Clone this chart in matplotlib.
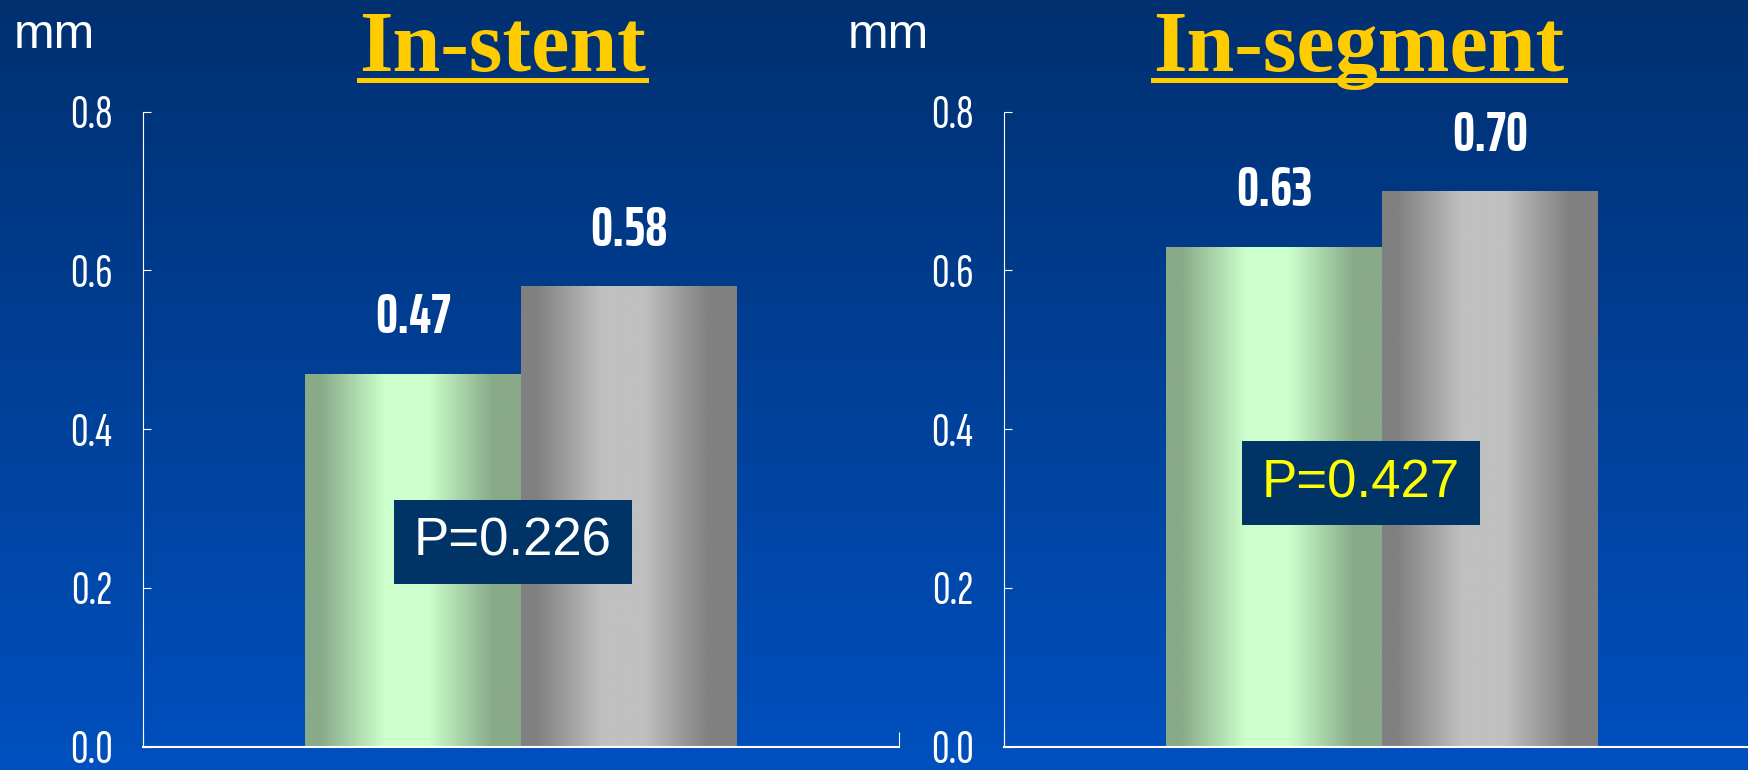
import numpy as np
import matplotlib
matplotlib.use("Agg")
import matplotlib.pyplot as plt
from matplotlib import font_manager
from matplotlib.patches import Rectangle
from matplotlib.lines import Line2D
from matplotlib.colors import to_rgb

# data
titles = ["In-stent", "In-segment"]
series = ["green", "gray"]
stent_values = [0.47, 0.58]
segment_values = [0.63, 0.70]
stent_labels = ["0.47", "0.58"]
segment_labels = ["0.63", "0.70"]
p_texts = ["P=0.226", "P=0.427"]
p_colors = ["white", "#ffff00"]
p_pos = [(0.463, 0.258), (0.403, 0.332)]
yticks = [0.0, 0.2, 0.4, 0.6, 0.8]
ytick_labels = ["0.0", "0.2", "0.4", "0.6", "0.8"]
unit = "mm"

bar_colors = [("#88aa88", "#ccffcc"), ("#808080", "#c0c0c0")]

# narrow fonts for numbers (regular for ticks, a real bold one for bar labels)
fonts = font_manager.fontManager.ttflist
names = {f.name for f in fonts}
narrow_list = ["Sofia Sans Extra Condensed", "Saira ExtraCondensed", "Fira Sans Extra Condensed",
               "Barlow Condensed", "Roboto Condensed"]
narrow = next((c for c in narrow_list if c in names), "DejaVu Sans")
bold_names = {f.name for f in fonts if isinstance(f.weight, int) and f.weight >= 700
              or f.weight in ("bold", "heavy", "black", "extra bold")}
narrow_bold = next((c for c in narrow_list if c in bold_names), narrow)

fig = plt.figure(figsize=(17.49, 7.70), dpi=100)

# background gradient
bg = fig.add_axes([0, 0, 1, 1], zorder=-10)
top, bottom = np.array(to_rgb("#003070")), np.array(to_rgb("#0050bf"))
g = np.linspace(0, 1, 256)[:, None]
bg.imshow((top + (bottom - top) * g)[:, None, :].repeat(2, axis=1), aspect="auto", extent=[0, 1, 0, 1])
bg.set_axis_off()


def bar_gradient(ax, rect, dark, light):
    u = np.linspace(0, 1, 300)
    d = np.abs(u - 0.47)
    t = np.clip((d - 0.1) / 0.3, 0, 1)
    dk, lt = np.array(to_rgb(dark)), np.array(to_rgb(light))
    img = lt + (dk - lt) * t[:, None]
    x0, y0 = rect.get_x(), rect.get_y()
    im = ax.imshow(img[None, :, :], aspect="auto",
                   extent=[x0, x0 + rect.get_width(), y0, y0 + rect.get_height()], zorder=2)
    im.set_clip_path(rect)


lefts = [143 / 1749, 1004 / 1749]
for i, (vals, labs) in enumerate([(stent_values, stent_labels), (segment_values, segment_labels)]):
    ax = fig.add_axes([lefts[i], 0.0304, 0.4322, 0.8245])
    ax.patch.set_alpha(0)
    bars = ax.bar([0, 1], vals, width=1.0, color="none", edgecolor="none")
    for b, (dk, lt) in zip(bars, bar_colors):
        bar_gradient(ax, b, dk, lt)
    for b, lab in zip(bars, labs):
        ax.annotate(lab, (b.get_x() + b.get_width() / 2, b.get_height()), xytext=(0, 29),
                    textcoords="offset points", ha="center", va="baseline", color="white",
                    fontsize=40, fontweight="bold", family=narrow_bold)
    ax.set_xlim(-1.25, 2.25)
    ax.set_ylim(0, 0.8)
    ax.set_yticks(yticks)
    ax.set_yticklabels(ytick_labels, family=narrow)
    ax.set_xticks([-1.25, 2.25])
    ax.set_xticklabels([])
    ax.tick_params(axis="y", direction="in", length=6, width=0.8, colors="white", labelsize=35, pad=22)
    ax.tick_params(axis="x", direction="in", length=11, width=0.8, colors="white")
    for s in ["top", "right"]:
        ax.spines[s].set_visible(False)
    ax.spines["left"].set_color("white")
    ax.spines["left"].set_linewidth(0.8)
    ax.spines["bottom"].set_color("white")
    ax.spines["bottom"].set_linewidth(1.5)

    # P value box
    px, py = p_pos[i]
    ax.add_patch(Rectangle((px - 0.55, py - 0.0525), 1.10, 0.105, facecolor="#003366",
                           edgecolor="none", zorder=5))
    ax.text(px, py, p_texts[i], ha="center", va="center", color=p_colors[i], fontsize=38,
            family="Liberation Sans", zorder=6)

# titles and units
title_x = [502.5 / 1749, 1359 / 1749]
unit_x = [14 / 1749, 848 / 1749]
title_artists = []
for i in range(2):
    t = fig.text(title_x[i], 0.9078, titles[i], ha="center", va="baseline", color="#ffcc00",
                 fontsize=62, fontweight="bold", family="Liberation Serif")
    title_artists.append(t)
    fig.text(unit_x[i], 0.9377, unit, ha="left", va="baseline", color="white", fontsize=35,
             family="Liberation Sans")

fig.canvas.draw()
for t in title_artists:
    bb = t.get_window_extent()
    y = 0.9078 * 770 - 9.5
    fig.add_artist(Line2D([bb.x0, bb.x1], [y, y], transform=None, color="#ffcc00", linewidth=3.6))

fig.savefig("out.png", dpi=100)
